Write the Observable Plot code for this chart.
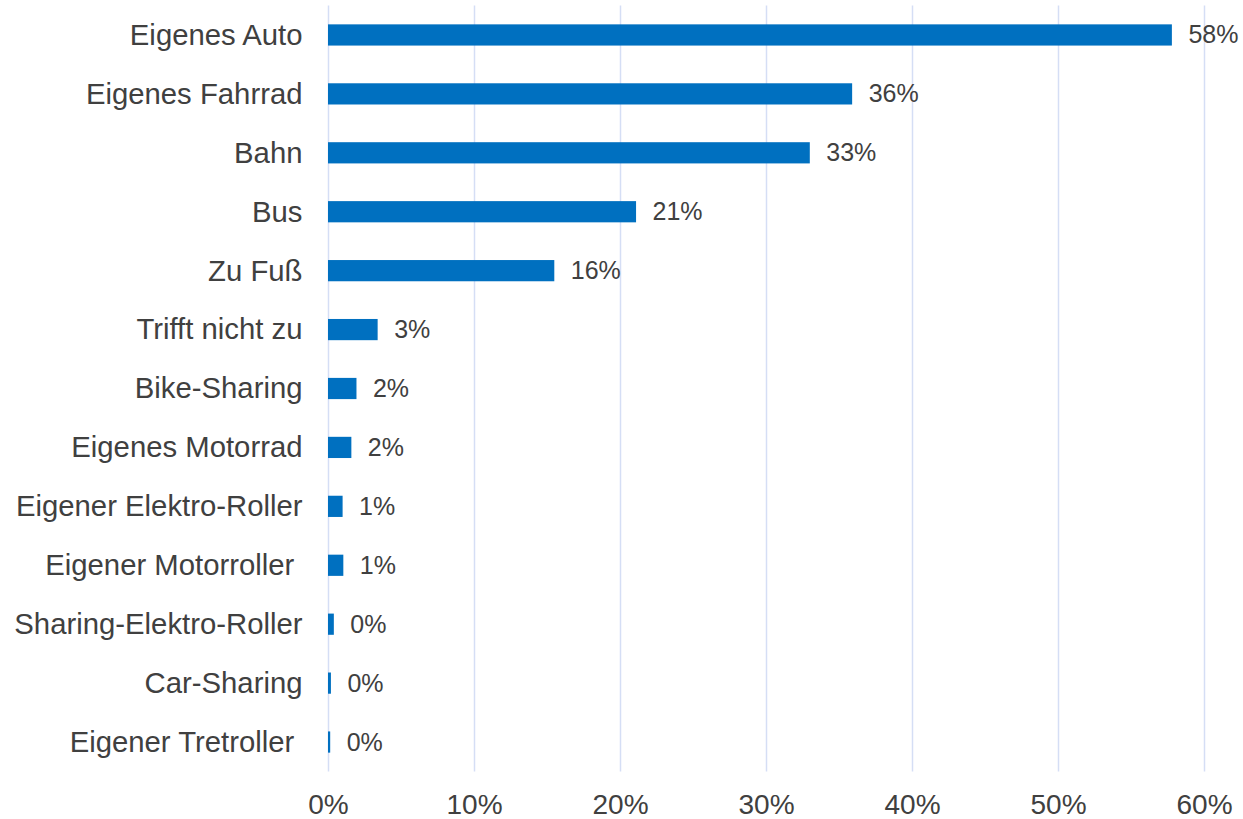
<!DOCTYPE html>
<html>
<head>
<meta charset="utf-8">
<script src="https://cdn.jsdelivr.net/npm/d3@7"></script>
<script src="https://cdn.jsdelivr.net/npm/@observablehq/plot@0.6"></script>
<style>
  html, body { margin: 0; padding: 0; background: #fff; }
  #chart svg { display: block; font-family: "Liberation Sans", Arial, sans-serif; }
</style>
</head>
<body>
<div id="chart"></div>
<script>
const categories = [
  "Eigenes Auto", "Eigenes Fahrrad", "Bahn", "Bus", "Zu Fuß", "Trifft nicht zu",
  "Bike-Sharing", "Eigenes Motorrad", "Eigener Elektro-Roller", "Eigener Motorroller\u00a0",
  "Sharing-Elektro-Roller", "Car-Sharing", "Eigener Tretroller\u00a0"
];
const values = [57.8, 35.9, 33.0, 21.1, 15.5, 3.4, 1.95, 1.6, 1.0, 1.05, 0.4, 0.2, 0.15];
const xTicks = [0, 10, 20, 30, 40, 50, 60];

const data = categories.map((c, i) => ({category: c, value: values[i], label: Math.round(values[i]) + "%"}));

const chart = Plot.plot({
  width: 1243,
  height: 819,
  marginLeft: 328,
  marginRight: 39,
  marginTop: 5.5,
  marginBottom: 47.5,
  style: {fontFamily: "'Liberation Sans', Arial, sans-serif", color: "#404040", background: "#fff", overflow: "visible"},
  x: {domain: [0, 60], ticks: xTicks, tickFormat: d => d + "%", label: null},
  y: {domain: categories, paddingInner: 0.64, paddingOuter: 0.32, round: false, label: null},
  marks: [
    Plot.gridX(xTicks, {stroke: "#d5def5", strokeOpacity: 1, strokeWidth: 1.5}),
    Plot.barX(data, {x: "value", y: "category", fill: "#0070c0"}),
    Plot.text(data, {x: "value", y: "category", text: "label", textAnchor: "start", dx: 16, fontSize: 25, fill: "#404040"}),
    Plot.axisX({ticks: xTicks, tickFormat: d => d + "%", tickSize: 0, tickPadding: 22, fontSize: 28, label: null, fill: "#404040"}),
    Plot.axisY({tickSize: 0, tickPadding: 26, fontSize: 29.3, label: null, fill: "#404040"})
  ]
});
document.getElementById("chart").appendChild(chart);
</script>
</body>
</html>
